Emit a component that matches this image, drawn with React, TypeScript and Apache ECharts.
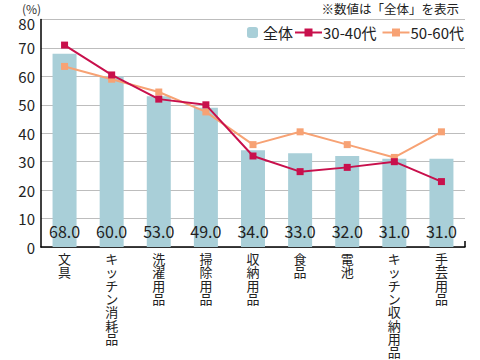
import React, { useEffect, useRef } from "react";
import * as echarts from "echarts";

const categories = ["文具", "キッチン消耗品", "洗濯用品", "掃除用品", "収納用品", "食品", "電池", "キッチン収納用品", "手芸用品"];
const totalValues = [68, 60, 53, 49, 34, 33, 32, 31, 31];
const age3040Values = [71, 60.5, 52, 50, 32, 26.5, 28, 30, 23];
const age5060Values = [63.5, 59, 54.5, 47.5, 36, 40.5, 36, 31.5, 40.5];
const yTicks = [0, 10, 20, 30, 40, 50, 60, 70, 80];

const FONT = '"Noto Sans CJK JP", "Noto Sans", sans-serif';

export default function App() {
  const ref = useRef<HTMLDivElement>(null);
  useEffect(() => {
    if (!ref.current) return;
    const chart = echarts.init(ref.current, undefined, { renderer: "svg" });
    chart.setOption({
      animation: false,
      textStyle: { fontFamily: FONT, color: "#222" },
      title: [
        { text: "(%)", left: 17, top: -3, textStyle: { fontSize: 12, fontWeight: "normal", color: "#333", fontFamily: FONT } },
        { text: "※数値は「全体」を表示", right: 16, top: -3, textStyle: { fontSize: 12.5, fontWeight: "normal", color: "#222", fontFamily: FONT } },
      ],
      legend: [
        {
          data: ["全体"],
          left: 242,
          top: 20,
          itemWidth: 11,
          itemHeight: 11,
          itemGap: 6,
          textStyle: { fontSize: 15, color: "#222", fontFamily: FONT },
        },
        {
          data: ["30-40代", "50-60代"],
          left: 289,
          top: 20,
          itemWidth: 27,
          itemHeight: 10,
          itemGap: 5,
          textStyle: { fontSize: 15, color: "#222", fontFamily: FONT, padding: [0, 0, 0, -4] },
        },
      ],
      graphic: [
        { type: "line", shape: { x1: 465, y1: 241, x2: 465, y2: 247 }, style: { stroke: "#000", lineWidth: 1.5 } },
      ],
      grid: { left: 41, right: 15, top: 19.5, bottom: 113, containLabel: false },
      xAxis: {
        type: "category",
        data: categories,
        axisLine: { lineStyle: { color: "#000", width: 1.5 } },
        axisTick: { show: false },
        axisLabel: {
          interval: 0,
          margin: 5,
          fontSize: 13,
          lineHeight: 13.3,
          color: "#222",
          fontFamily: FONT,
          verticalAlign: "top",
          formatter: (v: string) => v.split("").join("\n"),
        },
      },
      yAxis: {
        type: "value",
        min: 0,
        max: 80,
        interval: 10,
        axisLine: { show: true, lineStyle: { color: "#000", width: 1.5 } },
        axisTick: { show: false },
        splitLine: { lineStyle: { color: "#bdbdbd", width: 1 } },
        axisLabel: {
          fontSize: 15,
          color: "#222",
          margin: 6,
          fontFamily: FONT,
          formatter: (v: number) => (v === 80 ? "{top|80}" : yTicks.includes(v) ? String(v) : ""),
          rich: {
            top: { fontSize: 15, color: "#222", fontFamily: FONT, padding: [8, 0, 0, 0] },
          },
        },
      },
      series: [
        {
          name: "全体",
          type: "bar",
          data: totalValues,
          barWidth: 24,
          itemStyle: { color: "#a9cfd8" },
          label: {
            show: true,
            position: "insideBottom",
            distance: 8,
            fontSize: 16,
            color: "#222",
            fontFamily: FONT,
            formatter: (p: any) => Number(p.value).toFixed(1),
          },
          z: 1,
        },
        {
          name: "30-40代",
          type: "line",
          data: age3040Values,
          symbol: "rect",
          symbolSize: 7,
          lineStyle: { color: "#c8104c", width: 2 },
          itemStyle: { color: "#c8104c" },
          z: 3,
        },
        {
          name: "50-60代",
          type: "line",
          data: age5060Values,
          symbol: "rect",
          symbolSize: 7,
          lineStyle: { color: "#f7a274", width: 2 },
          itemStyle: { color: "#f7a274" },
          z: 2,
        },
      ],
    });
    return () => chart.dispose();
  }, []);
  return <div ref={ref} style={{ width: 480, height: 360, position: "absolute", left: 0, top: 0 }} />;
}
